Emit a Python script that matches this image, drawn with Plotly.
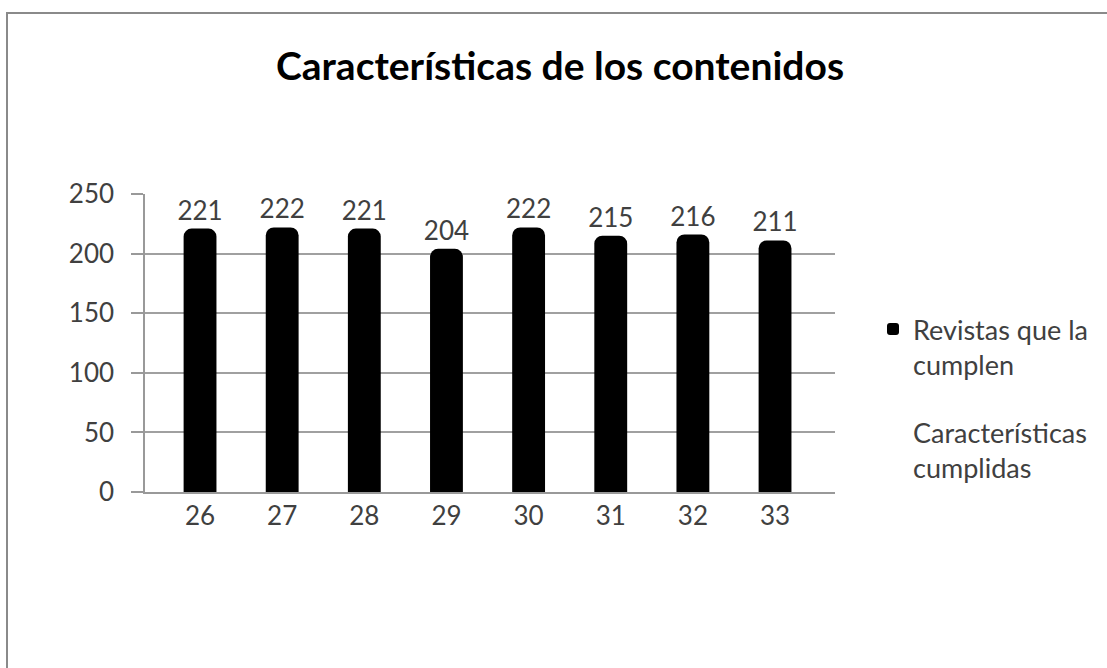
import plotly.graph_objects as go

categories = ["26", "27", "28", "29", "30", "31", "32", "33"]
revistas = [221, 222, 221, 204, 222, 215, 216, 211]
series_names = ["Revistas que la<br>cumplen", "Características<br>cumplidas"]
y_ticks = [0, 50, 100, 150, 200, 250]
title_text = "Características de los contenidos"

FONT = "Lato"
TXT = "#404040"

L, R, T, B = 145, 272, 194, 176
PW = 1107 - L - R
PH = 668 - T - B

fig = go.Figure()
fig.add_trace(go.Bar(
    x=categories, y=revistas, name=series_names[0], legendgroup="a",
    marker=dict(color="black", cornerradius=8, line=dict(width=0)),
    width=0.4,
    text=revistas, textposition="outside", cliponaxis=False, constraintext="none",
    textfont=dict(family=FONT, size=26, color=TXT),
))
fig.add_trace(go.Scatter(
    x=categories, y=[None] * len(categories), name=series_names[1], legendgroup="b",
    mode="markers", marker=dict(color="rgba(0,0,0,0)", size=1),
))

fig.update_layout(
    width=1107, height=668,
    paper_bgcolor="white", plot_bgcolor="white",
    margin=dict(l=L, r=R, t=T, b=B, autoexpand=False),
    title=dict(text="<b>" + title_text + "</b>", x=560 / 1107, xanchor="center",
               y=1 - 66 / 668, yanchor="middle",
               font=dict(family=FONT, size=39, color="black")),
    font=dict(family=FONT, size=26, color=TXT),
    showlegend=True,
    legend=dict(x=(873 - L) / PW, xanchor="left", y=(668 - B - 305) / PH, yanchor="top",
                font=dict(family=FONT, size=27, color=TXT), valign="top",
                traceorder="grouped", tracegroupgap=30,
                bgcolor="rgba(0,0,0,0)", itemsizing="constant"),
    xaxis=dict(type="category", range=[-0.67, 7.73], showgrid=False,
               showline=True, linecolor="#999999", linewidth=1.5,
               ticks="", tickfont=dict(family=FONT, size=26, color=TXT), fixedrange=True),
    yaxis=dict(range=[0, 250], tickvals=y_ticks, showgrid=True, gridcolor="#a0a0a0", gridwidth=1.5,
               showline=True, linecolor="#999999", linewidth=1.5, ticks="outside",
               ticklen=12, tickcolor="#999999", tickwidth=1.5, zeroline=False,
               ticklabelstandoff=12,
               tickfont=dict(family=FONT, size=26, color=TXT), fixedrange=True),
    shapes=[dict(type="rect", xref="paper", yref="paper",
                 x0=(7 - L) / PW, x1=1.5, y0=-1.0, y1=(668 - B - 13) / PH,
                 line=dict(color="#8a8a8a", width=2), fillcolor="rgba(0,0,0,0)", layer="below")],
)

fig.write_html("out.html", config={"displayModeBar": False},
               post_script="document.body.style.margin='0';document.body.style.overflow='hidden';")
